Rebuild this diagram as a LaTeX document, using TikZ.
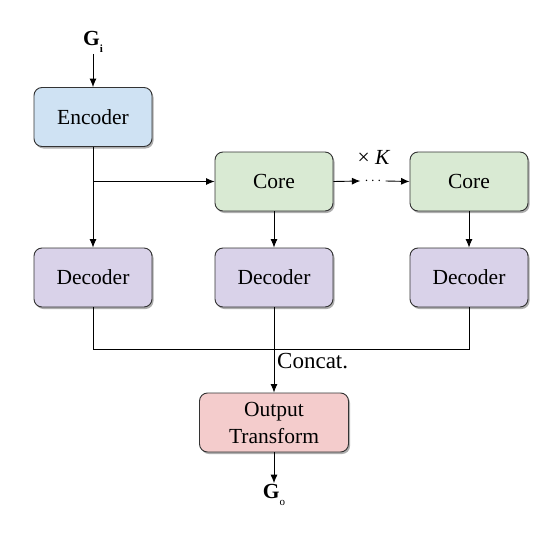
\documentclass[tikz,border=0pt]{standalone}
\usepackage{fontspec}
\setmainfont{Liberation Serif}
\usetikzlibrary{arrows.meta,shadows}
\definecolor{encblue}{HTML}{CFE2F3}
\definecolor{coregreen}{HTML}{D9EAD3}
\definecolor{declav}{HTML}{D9D2E9}
\definecolor{outpink}{HTML}{F4CCCC}
\definecolor{edge}{HTML}{333333}
\begin{document}
\begin{tikzpicture}[x=1pt,y=-1pt,
  box/.style={draw=edge, line width=0.9pt, rounded corners=8pt,
    minimum width=118pt, minimum height=59pt, align=center,
    font=\fontsize{21.5}{25}\selectfont,
    drop shadow={shadow xshift=1.5pt, shadow yshift=-2pt, opacity=0.45, fill=black!70}},
  arr/.style={draw=black, line width=0.9pt, -{Latex[length=8.5pt,width=7pt]}},
  ln/.style={draw=black, line width=0.9pt},
  lbl/.style={font=\fontsize{21.5}{25}\selectfont, inner sep=1pt}]
\useasboundingbox (0,0) rectangle (544,546);
\fill[white] (0,0) rectangle (544,546);

\node[lbl] (gi) at (93,42) {\textbf{G}\raisebox{-0.7ex}{\fontsize{11}{11}\selectfont\textbf{i}}};
\node[box, fill=encblue] (enc) at (93,117) {Encoder};
\node[box, fill=coregreen] (core1) at (274,181.5) {Core};
\node[box, fill=coregreen] (core2) at (469,181.5) {Core};
\node[box, fill=declav] (dec1) at (93,277.5) {Decoder};
\node[box, fill=declav] (dec2) at (274,277.5) {Decoder};
\node[box, fill=declav] (dec3) at (469,277.5) {Decoder};
\node[box, fill=outpink, minimum width=149pt, font=\fontsize{21.5}{27}\selectfont] (out) at (274,422.5) {Output\\Transform};
\node[lbl] (go) at (274,495) {\textbf{G}\raisebox{-0.7ex}{\fontsize{11}{11}\selectfont o}};

\node[inner xsep=4pt, inner ysep=0pt, font=\fontsize{15}{15}\selectfont] (dots) at (373,181) {$\cdots$};
\node[lbl] (xk) at (374,157) {× \textit{K}};
\node[lbl, anchor=west, font=\fontsize{23}{26}\selectfont] (concat) at (276,361) {Concat.};

\coordinate (br) at (enc.south |- core1.west);
\coordinate (j) at (274,349);

\draw[arr] (gi.south) -- (enc.north);
\draw[arr] (enc.south) -- (dec1.north);
\draw[arr] (br) -- (core1.west);
\draw[arr] (core1.east) -- (dots.west);
\draw[arr] (dots.east) -- (core2.west);
\draw[arr] (core1.south) -- (dec2.north);
\draw[arr] (core2.south) -- (dec3.north);
\draw[ln] (dec1.south) |- (j);
\draw[ln] (dec3.south) |- (j);
\draw[arr] (dec2.south) -- (out.north);
\draw[arr] (out.south) -- (go.north);
\end{tikzpicture}
\end{document}
